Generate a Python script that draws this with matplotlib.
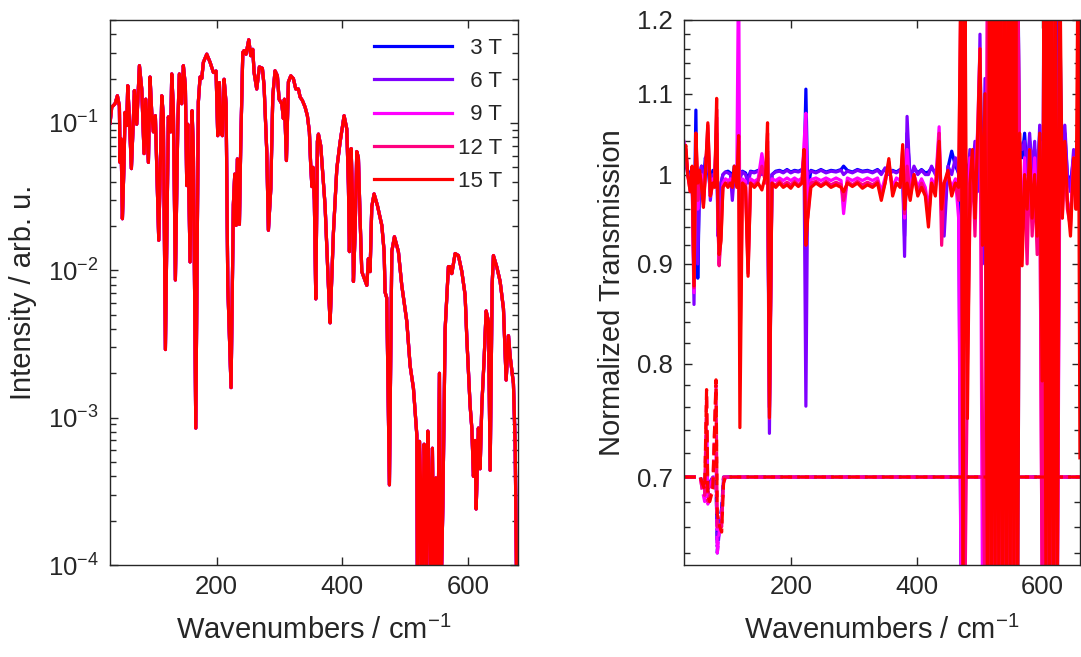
import math
import matplotlib
matplotlib.use('Agg')
import matplotlib.pyplot as plt
from matplotlib.ticker import FixedLocator, FixedFormatter, NullFormatter, LogLocator, FuncFormatter

plt.rcParams['font.family'] = ['Liberation Sans', 'DejaVu Sans']
plt.rcParams['mathtext.fontset'] = 'custom'
plt.rcParams['mathtext.rm'] = 'Liberation Sans'
plt.rcParams['mathtext.it'] = 'Liberation Sans:italic'

# fields and line colours
fields = ['3 T', '6 T', '9 T', '12 T', '15 T']
legend_labels = ['  3 T', '  6 T', '  9 T', '12 T', '15 T']
colors = ['#0000FF', '#8000FF', '#FF00FF', '#FF0080', '#FF0000']

# left panel: intensity spectrum (all fields lie on top of each other)
wn_int = [30, 32.7, 38, 41.7, 44.9, 45.9, 47.5, 49.7, 52.3, 53.9, 56.6, 58.2, 60.8, 64, 67.2, 68.8,
          72.5, 76.8, 80.5, 84.2, 86.9, 91.1, 93.7, 96.4, 99, 102.2, 107.6, 112.4, 114.9, 118.2,
          122.9, 126.7, 128.3, 130.9, 134.1, 137.9, 140.4, 144.3, 146.8, 150, 152.2, 153.8, 157.5,
          160.7, 162.8, 166.6, 170.7, 173.4, 176.1, 178.7, 184.1, 189.4, 194.7, 198.9, 201.6, 204.2,
          206.4, 209, 211.7, 214.9, 217.6, 222.8, 226.5, 228.7, 230.8, 232.9, 236.1, 238.3, 241.5,
          243.6, 246.7, 251, 254.2, 257.4, 259.5, 263.7, 267.9, 272.7, 275.4, 279.7, 282.3, 286.1,
          289.3, 292.9, 296.6, 299.3, 303.6, 306.2, 307.8, 311, 314.2, 318, 322.1, 325.9, 330.1,
          332.8, 336.5, 340.8, 344.4, 347.6, 349.5, 351.6, 353.3, 355.5, 357.8, 360.4, 362, 365.7,
          372.6, 377.9, 380.6, 385.9, 391.3, 396.5, 402.9, 407.2, 409.8, 411.4, 414.1, 416.8, 417.8,
          420.4, 423.1, 425.7, 428.4, 431.1, 436.4, 439.1, 441.6, 444.3, 447, 450.7, 456, 463,
          466.7, 468.2, 470.9, 475.1, 478.9, 483.1, 489.4, 494.8, 502.8, 508.1, 513.4, 518.8,
          519.8, 523, 525.2, 526.8, 530.4, 532, 533.6, 536.3, 538.8, 541.1, 543.6, 546.3, 549.1,
          551.6, 554.8, 557, 560.2, 563.9, 569.1, 571.8, 574.5, 579.8, 585, 590.5, 595.7, 598.5,
          603.7, 606.4, 609, 611.7, 613.3, 616.9, 619.6, 622.3, 626, 629.2, 632.9, 635.6, 638.8,
          640.8, 646.3, 651.5, 656.8, 661.1, 664.8, 667.5, 672.7, 675.5, 678.1, 680]
intensity = [0.10, 0.128, 0.135, 0.153, 0.13, 0.054, 0.078, 0.0224, 0.054, 0.118, 0.096, 0.179, 0.107,
             0.049, 0.107, 0.166, 0.098, 0.245, 0.17, 0.062, 0.145, 0.054, 0.205, 0.118, 0.087, 0.112,
             0.016, 0.153, 0.112, 0.0029, 0.11, 0.087, 0.215, 0.124, 0.0086, 0.096, 0.215, 0.135,
             0.245, 0.179, 0.0376, 0.098, 0.0114, 0.121, 0.063, 0.00085, 0.139, 0.205, 0.2, 0.258,
             0.293, 0.258, 0.22, 0.225, 0.082, 0.188, 0.087, 0.082, 0.198, 0.135, 0.0079, 0.0016,
             0.028, 0.045, 0.0202, 0.057, 0.0205, 0.074, 0.301, 0.31, 0.293, 0.367, 0.286, 0.316,
             0.22, 0.17, 0.24, 0.235, 0.179, 0.064, 0.0187, 0.0357, 0.153, 0.226, 0.209, 0.145,
             0.135, 0.107, 0.145, 0.0556, 0.19, 0.209, 0.2, 0.17, 0.17, 0.15, 0.142, 0.128, 0.112,
             0.087, 0.054, 0.037, 0.05, 0.03, 0.0064, 0.075, 0.084, 0.07, 0.0275, 0.0079, 0.0044,
             0.018, 0.049, 0.074, 0.112, 0.091, 0.0376, 0.0134, 0.067, 0.0262, 0.0084, 0.018, 0.064,
             0.058, 0.0224, 0.0098, 0.0085, 0.0079, 0.012, 0.0098, 0.027, 0.033, 0.0275, 0.0202,
             0.0134, 0.0071, 0.0065, 0.00035, 0.0134, 0.0169, 0.0134, 0.0079, 0.0045, 0.00225,
             0.00158, 0.00076, 5e-5, 0.00069, 0.0003, 5e-5, 0.00066, 0.00045, 5e-5, 0.00081, 0.0003,
             5e-5, 0.00062, 5e-5, 0.00039, 5e-5, 0.002, 5e-5, 0.00025, 0.004, 0.0106, 0.0106, 0.0095,
             0.013, 0.0126, 0.0098, 0.0068, 0.0034, 0.0012, 0.00085, 0.0004, 0.0007, 0.00024, 0.00085,
             0.00045, 0.0012, 0.0025, 0.0053, 0.0045, 0.00044, 0.008, 0.0126, 0.0105, 0.0084, 0.0055,
             0.0018, 0.0036, 0.0026, 0.0017, 0.00065, 5e-5, 5e-5]

# right panel: normalized transmission, one list per field
wn_tr = [30, 33, 36, 40, 43, 46, 49, 52, 55, 58, 61, 64, 68, 72, 76, 79, 82, 84, 86, 89, 92, 96, 100,
         104, 107, 110, 114, 117, 119, 123, 128, 132, 136, 142, 148, 154, 160, 163, 166, 170, 176,
         182, 188, 194, 200, 206, 212, 218, 221, 224, 227, 232, 240, 248, 256, 264, 272, 280, 284,
         290, 298, 306, 314, 322, 330, 338, 344, 350, 356, 362, 368, 374, 378, 381, 385, 390, 396,
         402, 408, 414, 419, 424, 430, 436, 440, 444, 450, 456, 462, 467,
         471, 474, 477, 481, 485, 489, 493, 497, 501, 505, 509, 513, 516, 519, 522, 525, 528, 531,
         534, 537, 540, 543, 546, 549, 552, 555, 558, 561, 564, 568, 572, 576, 580, 584, 588, 592,
         596, 600, 603, 606, 609, 612, 615, 618, 621, 624, 628, 632, 636, 640, 645, 650, 654, 657, 660]

trans_3T = [1.02, 1.01, 1.005, 1.0, 0.99, 0.93, 1.079, 0.885, 1.0, 1.01, 0.99, 1.02, 1.01, 0.98, 1.005,
            1.0, 1.03, 0.95, 0.94, 0.99, 1.0, 1.003, 1.004,
            1.002, 0.99, 1.01, 1.003, 1.0, 1.0, 1.004, 1.002, 0.995, 1.004,
            1.003, 1.005, 1.002, 1.005, 1.028, 0.76, 1.0, 1.004, 1.005, 1.003,
            1.006, 1.003, 1.005, 1.004, 1.006, 1.0, 1.106, 0.98, 1.005, 1.003,
            1.006, 1.003, 1.005, 1.004, 1.006, 1.01, 1.005, 1.003, 1.006, 1.004,
            1.005, 1.003, 1.006, 1.002, 1.006, 1.002, 1.005, 1.003, 1.006, 1.002,
            0.93, 1.05, 0.995, 1.008, 1.002, 1.006, 1.002, 1.003, 1.008, 1.002,
            1.006, 0.98, 0.95, 1.008, 1.028, 1.01, 1.002,
            0.6, 1.3, 1.0, 0.98, 1.02, 1.01, 1.03, 0.99, 1.15, 0.95,
            1.1, 0.7, 0.6, 1.3, 0.6, 1.3, 0.6, 1.3, 0.6, 1.3,
            0.6, 1.3, 0.6, 1.3, 0.6, 1.3, 0.6, 1.3, 1.03, 1.02,
            1.05, 1.0, 1.04, 1.01, 1.03, 0.99, 1.05, 0.85, 0.6, 1.3,
            0.6, 1.3, 0.6, 1.3, 0.6, 1.3, 0.95, 1.0, 1.05, 1.0,
            0.99, 1.02, 1.0, 1.01, 1.0]
trans_6T = [1.03, 1.02, 1.0, 0.99, 1.0, 0.858, 1.04, 0.9, 1.0, 1.01, 0.98, 1.01, 1.04, 0.97, 1.0, 1.0,
            1.05, 0.93, 0.95, 0.99, 1.0, 1.003, 1.002,
            1.0, 0.97, 1.0, 1.003, 1.0, 0.995, 1.003, 1.0, 0.99, 1.003,
            1.002, 1.004, 1.0, 1.003, 1.02, 0.737, 1.0, 1.003, 1.004, 1.002,
            1.005, 1.002, 1.004, 1.003, 1.005, 1.02, 0.761, 1.0, 1.004, 1.002,
            1.005, 1.002, 1.004, 1.003, 1.005, 1.0, 1.004, 1.002, 1.005, 1.003,
            1.004, 1.002, 1.005, 1.0, 1.008, 1.0, 1.004, 1.002, 1.005, 1.0,
            0.908, 1.071, 0.99, 1.01, 1.0, 1.005, 1.0, 1.0, 1.01, 1.0,
            1.01, 0.97, 0.93, 1.01, 1.0, 1.02, 1.0,
            1.0, 0.97, 1.02, 0.99, 1.03, 1.0, 1.04, 0.98, 1.18, 0.9,
            1.12, 0.6, 1.3, 0.6, 1.3, 0.6, 1.3, 0.6, 1.3, 0.6,
            1.3, 0.6, 1.3, 0.6, 1.3, 0.6, 1.3, 0.6, 1.04, 1.03,
            1.04, 1.0, 1.05, 1.0, 1.04, 0.98, 1.06, 0.85, 1.3, 0.6,
            1.3, 0.6, 1.3, 0.6, 1.3, 0.6, 1.2, 1.0, 1.06, 1.0,
            0.98, 1.03, 1.0, 1.02, 1.0]
trans_9T = [1.04, 1.03, 1.0, 0.985, 1.0, 0.87, 1.045, 0.96, 0.995, 1.0, 0.97, 1.0, 1.05, 0.975, 0.995,
            0.99, 1.07, 0.95, 0.9, 0.95, 0.99, 0.995, 0.993,
            0.995, 0.99, 1.0, 0.99, 1.3, 0.9, 0.995, 0.992, 0.9, 0.995,
            0.992, 0.995, 1.025, 0.995, 1.04, 0.76, 0.995, 0.993, 0.996, 0.993,
            0.996, 0.993, 0.996, 0.993, 0.996, 1.037, 1.075, 0.95, 0.994, 0.996,
            0.993, 0.996, 0.993, 0.996, 0.993, 0.955, 0.996, 0.993, 0.996, 0.993,
            0.996, 0.993, 0.996, 0.98, 0.996, 1.01, 0.985, 0.996, 0.993, 1.02,
            0.95, 1.03, 0.98, 1.0, 0.985, 0.995, 0.985, 0.96, 0.995, 0.985,
            1.058, 0.95, 0.99, 1.0, 0.985, 0.995, 0.95,
            0.6, 0.6, 1.0, 0.95, 1.02, 0.97, 1.0, 1.05, 1.16, 0.6,
            0.6, 1.3, 0.6, 1.3, 0.6, 1.3, 0.6, 1.3, 0.6, 1.3,
            0.6, 1.3, 0.6, 1.3, 0.6, 1.3, 0.6, 1.3, 1.0, 0.95,
            1.02, 0.94, 1.03, 0.96, 1.02, 0.94, 1.04, 0.6, 1.3, 0.6,
            1.3, 0.6, 1.3, 0.6, 1.3, 0.6, 1.0, 0.96, 1.03, 0.97,
            0.95, 1.02, 0.97, 1.0, 0.99]
trans_12T = [1.035, 1.03, 1.0, 0.98, 1.005, 0.875, 1.05, 0.97, 1.0, 0.99, 0.965, 1.0, 1.06, 0.975, 0.99,
             0.99, 1.08, 0.95, 0.898, 0.93, 0.985, 0.99, 0.99,
             0.99, 0.988, 1.005, 0.988, 1.04, 0.8, 0.99, 0.988, 0.89, 0.99,
             0.988, 0.992, 1.01, 0.99, 1.05, 0.75, 0.99, 0.988, 0.992, 0.988,
             0.991, 0.988, 0.992, 0.988, 0.992, 1.03, 0.95, 0.96, 0.99, 0.992,
             0.988, 0.992, 0.988, 0.991, 0.988, 0.97, 0.992, 0.988, 0.992, 0.988,
             0.991, 0.988, 0.992, 0.975, 0.99, 1.015, 0.98, 0.99, 0.988, 1.03,
             0.955, 1.01, 0.975, 1.0, 0.98, 0.99, 0.98, 0.95, 0.99, 0.98,
             1.05, 0.92, 0.99, 1.0, 0.98, 0.99, 0.97,
             1.3, 0.6, 0.6, 0.8, 0.95, 1.02, 0.93, 1.03, 1.1, 0.74,
             0.6, 1.3, 0.6, 1.3, 0.6, 1.3, 0.6, 1.3, 0.6, 1.3,
             0.6, 1.3, 0.6, 1.3, 0.6, 1.3, 0.6, 1.3, 1.0, 0.92,
             0.99, 0.9, 1.02, 0.93, 0.99, 0.91, 1.03, 0.6, 1.3, 0.6,
             1.3, 0.6, 1.3, 0.6, 1.3, 0.6, 1.1, 0.95, 1.02, 0.96,
             0.94, 1.01, 0.97, 1.0, 0.98]
trans_15T = [1.025, 1.035, 1.0, 0.98, 1.01, 0.877, 1.05, 0.99, 1.005, 0.985, 0.962, 1.0, 1.063, 0.975,
             0.99, 0.985, 1.094, 0.96, 0.91, 0.925, 0.985, 0.99, 0.985,
             0.99, 0.985, 1.01, 0.985, 1.047, 0.742, 0.99, 0.985, 0.887, 0.99,
             0.985, 0.99, 0.982, 1.0, 1.063, 0.751, 0.99, 0.985, 0.99, 0.985,
             0.988, 0.984, 0.99, 0.986, 0.99, 1.03, 0.92, 0.95, 0.985, 0.99,
             0.986, 0.99, 0.985, 0.988, 0.985, 0.98, 0.99, 0.986, 0.99, 0.984,
             0.988, 0.985, 0.99, 0.97, 0.99, 1.019, 0.975, 0.99, 0.985, 1.036,
             0.96, 0.99, 0.97, 1.0, 0.975, 0.985, 0.975, 0.94, 0.99, 0.975,
             1.04, 0.96, 0.99, 1.005, 0.975, 0.99, 0.985,
             1.3, 0.6, 1.3, 0.75, 0.99, 1.03, 0.95, 1.04, 1.16, 0.92,
             1.1, 0.6, 1.3, 0.6, 1.3, 0.6, 1.3, 0.6, 1.3, 0.6,
             1.3, 0.6, 1.3, 0.6, 1.3, 0.6, 1.3, 0.6, 1.05, 0.898,
             1.0, 0.96, 1.03, 0.95, 1.0, 0.93, 1.05, 0.784, 1.3, 0.6,
             1.3, 0.6, 1.3, 0.6, 1.3, 0.6, 1.3, 0.95, 1.04, 0.97,
             0.93, 1.02, 0.96, 1.3, 0.716]
transmission = [trans_3T, trans_6T, trans_9T, trans_12T, trans_15T]

# dashed traces sitting at 0.7
wn_dash = [30, 56, 59, 63, 66, 68, 71, 76, 81, 83, 87, 90, 93, 96, 660]
dash_3T = [0.7, 0.7, 0.695, 0.69, 0.72, 0.69, 0.695, 0.7, 0.7, 0.645, 0.665, 0.675, 0.7, 0.7, 0.7]
dash_6T = [0.7, 0.7, 0.695, 0.685, 0.73, 0.685, 0.695, 0.7, 0.7, 0.64, 0.66, 0.67, 0.7, 0.7, 0.7]
dash_9T = [0.7, 0.7, 0.69, 0.68, 0.74, 0.678, 0.69, 0.7, 0.72, 0.64, 0.66, 0.67, 0.695, 0.7, 0.7]
dash_12T = [0.7, 0.7, 0.69, 0.685, 0.77, 0.68, 0.685, 0.695, 0.78, 0.66, 0.665, 0.66, 0.7, 0.7, 0.7]
dash_15T = [0.7, 0.7, 0.695, 0.69, 0.776, 0.685, 0.68, 0.69, 0.785, 0.67, 0.66, 0.656, 0.695, 0.7, 0.7]
dashed = [dash_3T, dash_6T, dash_9T, dash_12T, dash_15T]

text_col = '#262626'
fig = plt.figure(figsize=(10.81, 6.57), dpi=100)
ax1 = fig.add_axes([0.1018, 0.14, 0.3774, 0.8296])
ax2 = fig.add_axes([0.6327, 0.14, 0.3663, 0.8296])

# left: intensity
for field, label, col in zip(fields, legend_labels, colors):
    ax1.plot(wn_int, intensity, color=col, lw=2.3, label=label)
ax1.set_yscale('log')
ax1.set_xlim(30, 680)
ax1.set_ylim(1e-4, 0.5)
ax1.set_xticks([200, 400, 600])
ax1.set_yticks([1e-4, 1e-3, 1e-2, 1e-1])
ax1.yaxis.set_major_formatter(FuncFormatter(lambda v, p: r'$\mathregular{10^{%d}}$' % round(math.log10(v))))
ax1.yaxis.set_minor_locator(LogLocator(base=10, subs=[2, 3, 4, 5, 6, 7, 8, 9]))
ax1.yaxis.set_minor_formatter(NullFormatter())
ax1.set_xlabel(r'Wavenumbers / cm$^{\mathregular{-1}}$', fontsize=21, color=text_col, labelpad=12)
ax1.set_ylabel('Intensity / arb. u.', fontsize=21, color=text_col, labelpad=8)
leg = ax1.legend(frameon=False, loc='upper right', bbox_to_anchor=(0.962, 0.967), borderaxespad=0,
                 borderpad=0, handlelength=3.5, handletextpad=0.3, labelspacing=0.55, fontsize=16)
for t in leg.get_texts():
    t.set_color(text_col)

# right: normalized transmission
for col, tr, ds in zip(colors, transmission, dashed):
    ax2.plot(wn_tr, tr, color=col, lw=2.3)
    ax2.plot(wn_dash, ds, color=col, lw=2.3, ls='--')
ax2.set_yscale('log')
ax2.set_xlim(30, 660)
ax2.set_ylim(0.631, 1.2)
ax2.set_xticks([200, 400, 600])
major_tr = [0.7, 0.8, 0.9, 1.0, 1.1, 1.2]
ax2.yaxis.set_major_locator(FixedLocator(major_tr))
ax2.yaxis.set_major_formatter(FixedFormatter(['0.7', '0.8', '0.9', '1', '1.1', '1.2']))
minor_tr = [0.64, 0.66, 0.68, 0.72, 0.74, 0.76, 0.78, 0.82, 0.84, 0.86, 0.88, 0.92, 0.94, 0.96, 0.98,
            1.02, 1.04, 1.06, 1.08, 1.12, 1.14, 1.16, 1.18]
ax2.yaxis.set_minor_locator(FixedLocator(minor_tr))
ax2.yaxis.set_minor_formatter(NullFormatter())
ax2.set_xlabel(r'Wavenumbers / cm$^{\mathregular{-1}}$', fontsize=21, color=text_col, labelpad=12)
ax2.set_ylabel('Normalized Transmission', fontsize=21, color=text_col, labelpad=8)

for ax in (ax1, ax2):
    ax.tick_params(which='both', direction='in', top=True, right=True, colors=text_col, labelsize=18.5,
                   width=1)
    ax.tick_params(axis='y', which='major', pad=8)
    ax.tick_params(axis='x', which='major', pad=7)
    ax.tick_params(which='major', length=6)
    ax.tick_params(which='minor', length=4)
    ax.xaxis.set_minor_locator(FixedLocator([]))
    for s in ax.spines.values():
        s.set_color(text_col)
        s.set_linewidth(1)

fig.savefig('out.png', dpi=100)
